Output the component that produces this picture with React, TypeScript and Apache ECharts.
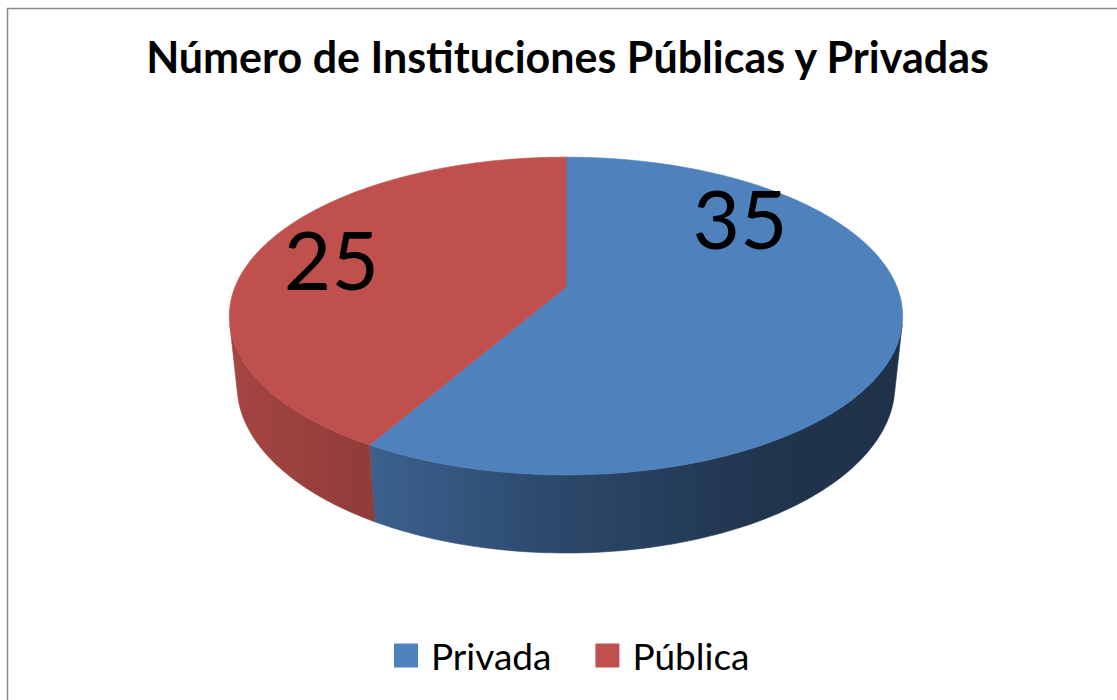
import React, { useEffect, useRef } from "react";
import * as echarts from "echarts";

// ---- data ----
const categories = ["Privada", "Pública"];
const values = [35, 25];
const palette = ["#4F81BD", "#C0504D"];
const titleText = "Número de Instituciones Públicas y Privadas";

// ---- 3D projection (perspective view of a flat cylinder) ----
const CX = 566;
const CY = 287;
const KR = 331;
const SIN = 0.464;
const COS = 0.886;
const RHO = 0.206;
const ETA = 0.2385;
const LABEL_R = 0.76;
const LABEL_SHIFT = [-56, 0];

function proj(a: number, r: number, y: number): number[] {
  const X = r * Math.cos(a);
  const Z = r * Math.sin(a);
  const d = 1 - RHO * (y * SIN + Z * COS);
  return [CX + (KR * X) / d, CY + (KR * (Z * SIN - y * COS)) / d];
}

function shade(hex: string, f: number): string {
  const n = parseInt(hex.slice(1), 16);
  const r = Math.round(((n >> 16) & 255) * f);
  const g = Math.round(((n >> 8) & 255) * f);
  const b = Math.round((n & 255) * f);
  return `rgb(${r},${g},${b})`;
}

const WALL_STOPS: number[][] = [
  [0, 0.86],
  [0.22, 0.745],
  [0.49, 0.56],
  [0.7, 0.46],
  [0.8, 0.4],
  [1, 0.39],
];

function makeRenderItem(i: number) {
  return (params: any, api: any) => {
    const total = values.reduce((s, v) => s + v, 0);
    const before = values.slice(0, i).reduce((s, v) => s + v, 0);
    const start = -Math.PI / 2 + (2 * Math.PI * before) / total;
    const end = start + (2 * Math.PI * api.value(0)) / total;
    const base = palette[i];
    const children: any[] = [];

    // walls
    const a0 = Math.asin(RHO / COS);
    const xl = CX - KR / Math.sqrt(1 - (RHO * COS) ** 2);
    const xr = CX + KR / Math.sqrt(1 - (RHO * COS) ** 2);
    const grad = new echarts.graphic.LinearGradient(
      xl, 0, xr, 0,
      WALL_STOPS.map(([t, f]) => ({ offset: t, color: shade(base, f) })),
      true
    );
    for (let k = -1; k <= 1; k++) {
      const lo = Math.max(start, a0 + 2 * Math.PI * k);
      const hi = Math.min(end, Math.PI - a0 + 2 * Math.PI * k);
      if (hi <= lo) continue;
      const n = Math.max(2, Math.ceil(((hi - lo) * 180) / Math.PI));
      const pts: number[][] = [];
      for (let j = 0; j <= n; j++) pts.push(proj(lo + ((hi - lo) * j) / n, 1, 0));
      for (let j = n; j >= 0; j--) pts.push(proj(lo + ((hi - lo) * j) / n, 1, -ETA));
      children.push({
        type: "polygon",
        shape: { points: pts },
        style: { fill: grad, stroke: grad, lineWidth: 0.6 },
        z2: 1,
      });
    }

    // top face
    const n = Math.max(2, Math.ceil(((end - start) * 180) / Math.PI) * 2);
    const top: number[][] = [proj(0, 0, 0)];
    for (let j = 0; j <= n; j++) top.push(proj(start + ((end - start) * j) / n, 1, 0));
    children.push({
      type: "polygon",
      shape: { points: top },
      style: { fill: base, stroke: base, lineWidth: 0.6 },
      z2: 10,
    });

    // label
    const mid = (start + end) / 2 + (LABEL_SHIFT[i] * Math.PI) / 180;
    const lp = proj(mid, LABEL_R, 0);
    children.push({
      type: "text",
      x: lp[0],
      y: lp[1],
      style: {
        text: String(api.value(0)),
        fontFamily: "Lato",
        fontSize: 82,
        fill: "#000",
        align: "center",
        verticalAlign: "middle",
      },
      z2: 20,
    });

    return { type: "group", children };
  };
}

export default function App() {
  const ref = useRef<HTMLDivElement>(null);
  useEffect(() => {
    if (!ref.current) return;
    const chart = echarts.init(ref.current, null, { renderer: "svg" });
    chart.setOption({
      animation: false,
      backgroundColor: "#fff",
      title: {
        text: titleText,
        left: "center",
        top: 35,
        padding: 0,
        textStyle: {
          fontFamily: "Lato",
          fontWeight: "bold",
          fontSize: 43,
          color: "#000",
        },
      },
      legend: {
        data: categories.map((c, i) => ({ name: c, itemStyle: { color: palette[i] } })),
        left: 394,
        top: 637,
        padding: 0,
        icon: "rect",
        itemWidth: 24,
        itemHeight: 24,
        itemGap: 44,
        textStyle: {
          fontFamily: "Lato",
          fontSize: 37,
          color: "#000",
          padding: [0, 0, 0, 8],
        },
      },
      graphic: [
        {
          type: "rect",
          silent: true,
          shape: { x: 7.5, y: 8.5, width: 1400, height: 900 },
          style: { fill: "none", stroke: "#888", lineWidth: 1.5 },
        },
      ],
      series: categories.map((c, i) => ({
        type: "custom",
        name: c,
        coordinateSystem: "none",
        data: [values[i]],
        itemStyle: { color: palette[i] },
        renderItem: makeRenderItem(i),
      })),
    });
    return () => chart.dispose();
  }, []);
  return (
    <div
      style={{
        position: "absolute",
        left: 0,
        top: 0,
        width: 1117,
        height: 700,
        overflow: "hidden",
      }}
    >
      <div ref={ref} style={{ width: 1135, height: 700 }} />
    </div>
  );
}
